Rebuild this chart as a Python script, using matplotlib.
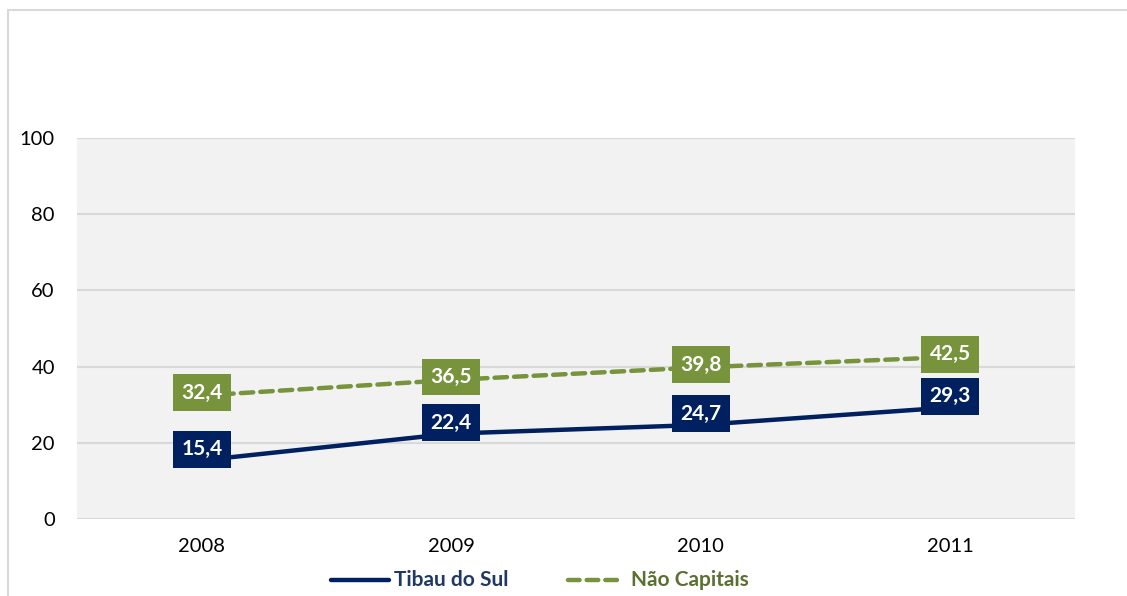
import matplotlib
matplotlib.use("Agg")
import matplotlib.pyplot as plt
from matplotlib.patches import Rectangle
from matplotlib.lines import Line2D

years = ["2008", "2009", "2010", "2011"]
tibau = [15.4, 22.4, 24.7, 29.3]
nao_capitais = [32.4, 36.5, 39.8, 42.5]
yticks = [0, 20, 40, 60, 80, 100]

blue = "#002060"
green = "#77933C"
W, H = 1127, 596
plt.rcParams['font.family'] = ['Lato', 'DejaVu Sans']

fig = plt.figure(figsize=(W/100, H/100), dpi=100)
fig.patch.set_facecolor("white")
# outer frame
fig.add_artist(Rectangle((8/W, -0.1), 1.2, 1 - 10/H + 0.1, transform=fig.transFigure,
                         fill=False, edgecolor="#d9d9d9", linewidth=1.5))

ax = fig.add_axes([77/W, 1 - 519/H, (1075-77)/W, (519-138)/H])
ax.set_facecolor("#f2f2f2")
x = list(range(len(years)))
ax.set_xlim(-0.5, 3.5)
ax.set_ylim(0, 100)
ax.set_yticks(yticks)
ax.set_xticks(x)
ax.set_xticklabels(years)
ax.grid(axis="y", color="#d9d9d9", linewidth=1.5)
ax.set_axisbelow(True)
for s in ax.spines.values():
    s.set_visible(False)
ax.tick_params(length=0, labelsize=14.5, colors="#000000")
ax.tick_params(axis="y", pad=16)
ax.tick_params(axis="x", pad=14)

ax.plot(x, tibau, color=blue, linewidth=3.2, solid_capstyle="round")
ax.plot(x, nao_capitais, color=green, linewidth=3.2, linestyle=(0, (2.8, 1.6)),
        dash_capstyle="round")

for xi, v in zip(x, tibau):
    ax.annotate(f"{v:.1f}".replace(".", ","), (xi, v), xytext=(0, 8), textcoords="offset points",
                ha="center", va="center", color="white", fontsize=15, fontweight="bold",
                bbox=dict(boxstyle="square,pad=0.4", facecolor=blue, edgecolor="none"))
for xi, v in zip(x, nao_capitais):
    ax.annotate(f"{v:.1f}".replace(".", ","), (xi, v), xytext=(0, 2), textcoords="offset points",
                ha="center", va="center", color="white", fontsize=15, fontweight="bold",
                bbox=dict(boxstyle="square,pad=0.4", facecolor=green, edgecolor="none"))

# legend
ly = 1 - 580/H
fig.add_artist(Line2D([331/W, 389/W], [ly, ly], transform=fig.transFigure, color=blue,
                      linewidth=3.2, solid_capstyle="round"))
fig.text(394/W, ly, "Tibau do Sul", color="#1F3864", fontsize=15, fontweight="bold",
         va="center", ha="left")
fig.add_artist(Line2D([568/W, 620/W], [ly, ly], transform=fig.transFigure, color=green,
                      linewidth=3.2, linestyle=(0, (2.6, 1.6)), dash_capstyle="round"))
fig.text(631/W, ly, "Não Capitais", color="#5A7030", fontsize=15, fontweight="bold",
         va="center", ha="left")

fig.savefig("out.png", dpi=100)
